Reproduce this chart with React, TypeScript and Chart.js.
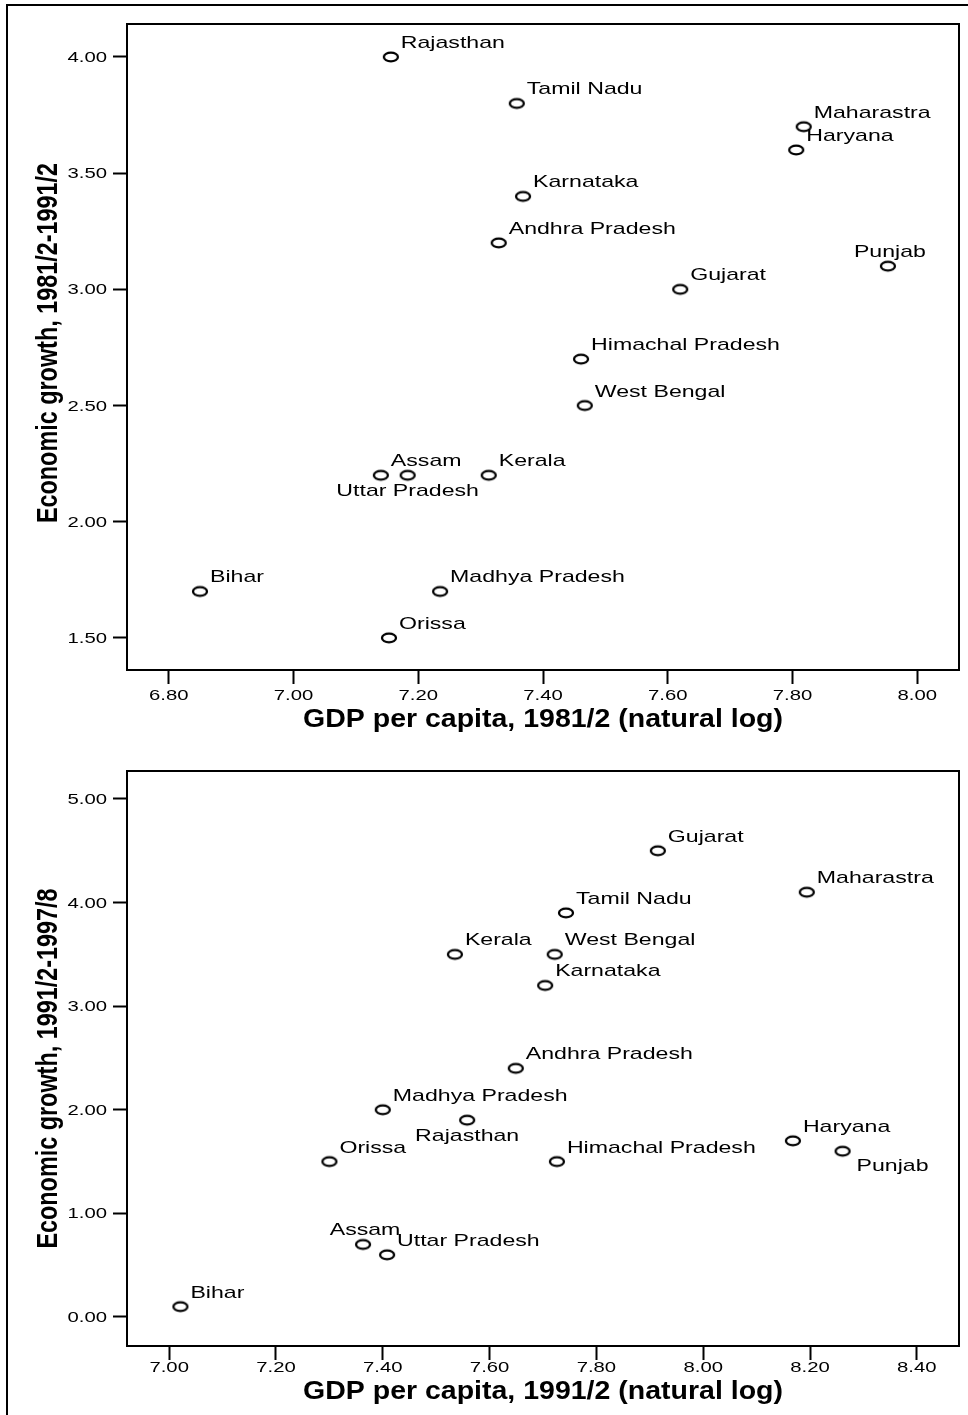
import { useEffect, useRef } from "react";
import { Chart, registerables } from "chart.js";

Chart.register(...registerables);

const FONT = '"Liberation Sans", Arial, Helvetica, sans-serif';

// ---------- Panel 1: 1981/2 - 1991/2 ----------
const STATES_1 = [
  "Rajasthan", "Tamil Nadu", "Maharastra", "Haryana", "Karnataka", "Andhra Pradesh",
  "Punjab", "Gujarat", "Himachal Pradesh", "West Bengal", "Kerala", "Assam",
  "Uttar Pradesh", "Bihar", "Madhya Pradesh", "Orissa",
];
const GDP_1 = [7.156, 7.358, 7.818, 7.806, 7.368, 7.329, 7.953, 7.62, 7.461, 7.467, 7.313, 7.14, 7.183, 6.85, 7.235, 7.153];
const GROWTH_1 = [4.0, 3.8, 3.7, 3.6, 3.4, 3.2, 3.1, 3.0, 2.7, 2.5, 2.2, 2.2, 2.2, 1.7, 1.7, 1.5];
const X_TICKS_1 = [6.8, 7.0, 7.2, 7.4, 7.6, 7.8, 8.0];
const Y_TICKS_1 = [1.5, 2.0, 2.5, 3.0, 3.5, 4.0];
const X_RANGE_1 = [6.733, 8.067];
const Y_RANGE_1 = [1.362, 4.142];
const X_TITLE_1 = "GDP per capita, 1981/2 (natural log)";
const Y_TITLE_1 = "Economic growth, 1981/2-1991/2";
const PLACE_1: Record<string, string> = { "Uttar Pradesh": "below", Punjab: "above" };

// ---------- Panel 2: 1991/2 - 1997/8 ----------
const STATES_2 = [
  "Gujarat", "Maharastra", "Tamil Nadu", "West Bengal", "Kerala", "Karnataka",
  "Andhra Pradesh", "Madhya Pradesh", "Rajasthan", "Orissa", "Himachal Pradesh",
  "Haryana", "Punjab", "Assam", "Uttar Pradesh", "Bihar",
];
const GDP_2 = [7.915, 8.194, 7.743, 7.722, 7.535, 7.704, 7.649, 7.4, 7.558, 7.3, 7.726, 8.168, 8.261, 7.363, 7.408, 7.021];
const GROWTH_2 = [4.5, 4.1, 3.9, 3.5, 3.5, 3.2, 2.4, 2.0, 1.9, 1.5, 1.5, 1.7, 1.6, 0.7, 0.6, 0.1];
const X_TICKS_2 = [7.0, 7.2, 7.4, 7.6, 7.8, 8.0, 8.2, 8.4];
const Y_TICKS_2 = [0, 1, 2, 3, 4, 5];
const X_RANGE_2 = [6.921, 8.479];
const Y_RANGE_2 = [-0.28, 5.27];
const X_TITLE_2 = "GDP per capita, 1991/2 (natural log)";
const Y_TITLE_2 = "Economic growth, 1991/2-1997/8";
const PLACE_2: Record<string, string> = { Rajasthan: "below", Punjab: "belowRight", Assam: "above" };

function makeMarker(): HTMLCanvasElement {
  const c = document.createElement("canvas");
  c.width = 20;
  c.height = 14;
  const g = c.getContext("2d")!;
  g.lineWidth = 2.3;
  g.strokeStyle = "#000";
  g.beginPath();
  g.ellipse(10, 7, 7, 4.4, 0, 0, Math.PI * 2);
  g.stroke();
  return c;
}

function stretchText(ctx: CanvasRenderingContext2D, text: string, x: number, y: number, sx: number, align: CanvasTextAlign) {
  ctx.save();
  ctx.translate(x, y);
  ctx.scale(sx, 1);
  ctx.textAlign = align;
  ctx.textBaseline = "alphabetic";
  ctx.fillText(text, 0, 0);
  ctx.restore();
}

type PanelProps = {
  states: string[];
  xs: number[];
  ys: number[];
  xTicks: number[];
  yTicks: number[];
  xRange: number[];
  yRange: number[];
  xTitle: string;
  yTitle: string;
  place: Record<string, string>;
  top: number;
  height: number;
  padTop: number;
  xAxisHeight: number;
  xTickBase: number;
  xTitleBase: number;
  yTitleShift: number;
};

function Panel(p: PanelProps) {
  const ref = useRef<HTMLCanvasElement | null>(null);
  useEffect(() => {
    if (!ref.current) return;
    const marker = makeMarker();
    const overlay = {
      id: "overlay",
      afterDraw(chart: any) {
        const ctx: CanvasRenderingContext2D = chart.ctx;
        const { left, top, right, bottom } = chart.chartArea;
        const xs = chart.scales.x;
        const ys = chart.scales.y;
        ctx.save();
        // plot frame
        ctx.strokeStyle = "#000";
        ctx.lineWidth = 2;
        ctx.strokeRect(left, top, right - left, bottom - top);
        ctx.fillStyle = "#000";
        // tick labels
        ctx.font = `14.5px ${FONT}`;
        for (const v of p.yTicks) {
          stretchText(ctx, v.toFixed(2), left - 20, ys.getPixelForValue(v) + 5, 1.4, "right");
        }
        for (const v of p.xTicks) {
          stretchText(ctx, v.toFixed(2), xs.getPixelForValue(v), bottom + p.xTickBase, 1.4, "center");
        }
        // x title
        ctx.font = `bold 25px ${FONT}`;
        stretchText(ctx, p.xTitle, (left + right) / 2, bottom + p.xTitleBase, 1.14, "center");
        // y title (rotated, condensed along its length)
        ctx.save();
        ctx.translate(57, (top + bottom) / 2 + p.yTitleShift);
        ctx.rotate(-Math.PI / 2);
        ctx.scale(0.78, 1);
        ctx.font = `bold 30px ${FONT}`;
        ctx.textAlign = "center";
        ctx.textBaseline = "alphabetic";
        ctx.fillText(p.yTitle, 0, 0);
        ctx.restore();
        // point labels
        ctx.font = `17px ${FONT}`;
        const meta = chart.getDatasetMeta(0);
        meta.data.forEach((el: any, i: number) => {
          const name = p.states[i];
          const mode = p.place[name] || "upRight";
          const px = el.x;
          const py = el.y;
          if (mode === "below") stretchText(ctx, name, px, py + 21, 1.36, "center");
          else if (mode === "above") stretchText(ctx, name, px + 2, py - 9, 1.36, "center");
          else if (mode === "belowRight") stretchText(ctx, name, px + 14, py + 20, 1.36, "left");
          else stretchText(ctx, name, px + 10, py - 9, 1.36, "left");
        });
        ctx.restore();
      },
    };
    const tickGrid = {
      display: true,
      drawOnChartArea: false,
      drawTicks: true,
      tickLength: 14,
      tickWidth: 2,
      tickColor: "#000",
      color: "#000",
    };
    const chart = new Chart(ref.current, {
      type: "scatter",
      data: {
        datasets: [
          {
            data: p.xs.map((x, i) => ({ x, y: p.ys[i] })),
            pointStyle: marker as any,
            pointRadius: 7,
            pointHoverRadius: 7,
            borderColor: "#000",
            backgroundColor: "rgba(0,0,0,0)",
          },
        ],
      },
      options: {
        animation: false,
        responsive: true,
        maintainAspectRatio: false,
        events: [],
        layout: { padding: { top: p.padTop, right: 9, left: 0, bottom: 0 } },
        plugins: {
          legend: { display: false },
          tooltip: { enabled: false },
          title: { display: false },
        },
        scales: {
          x: {
            type: "linear",
            min: p.xRange[0],
            max: p.xRange[1],
            afterBuildTicks: (axis: any) => {
              axis.ticks = p.xTicks.map((v) => ({ value: v }));
            },
            afterFit: (axis: any) => {
              axis.height = p.xAxisHeight;
            },
            ticks: { display: false },
            grid: tickGrid,
            border: { display: false },
          },
          y: {
            type: "linear",
            min: p.yRange[0],
            max: p.yRange[1],
            afterBuildTicks: (axis: any) => {
              axis.ticks = p.yTicks.map((v) => ({ value: v }));
            },
            afterFit: (axis: any) => {
              axis.width = 127;
            },
            ticks: { display: false },
            grid: tickGrid,
            border: { display: false },
          },
        },
      } as any,
      plugins: [overlay],
    });
    return () => chart.destroy();
  }, []);
  return (
    <div style={{ position: "absolute", left: 0, top: p.top, width: 968, height: p.height }}>
      <canvas ref={ref} />
    </div>
  );
}

export default function App() {
  return (
    <div style={{ position: "absolute", left: 0, top: 0, width: 968, height: 1415, overflow: "hidden", background: "#fff" }}>
      <div
        style={{
          position: "absolute",
          left: 6,
          top: 4,
          width: 1000,
          height: 1500,
          border: "2px solid #000",
          boxSizing: "border-box",
        }}
      />
      <Panel
        states={STATES_1}
        xs={GDP_1}
        ys={GROWTH_1}
        xTicks={X_TICKS_1}
        yTicks={Y_TICKS_1}
        xRange={X_RANGE_1}
        yRange={Y_RANGE_1}
        xTitle={X_TITLE_1}
        yTitle={Y_TITLE_1}
        place={PLACE_1}
        top={0}
        height={745}
        padTop={24}
        xAxisHeight={75}
        xTickBase={30}
        xTitleBase={57}
        yTitleShift={-4}
      />
      <Panel
        states={STATES_2}
        xs={GDP_2}
        ys={GROWTH_2}
        xTicks={X_TICKS_2}
        yTicks={Y_TICKS_2}
        xRange={X_RANGE_2}
        yRange={Y_RANGE_2}
        xTitle={X_TITLE_2}
        yTitle={Y_TITLE_2}
        place={PLACE_2}
        top={745}
        height={670}
        padTop={26}
        xAxisHeight={69}
        xTickBase={26}
        xTitleBase={53}
        yTitleShift={10}
      />
    </div>
  );
}
